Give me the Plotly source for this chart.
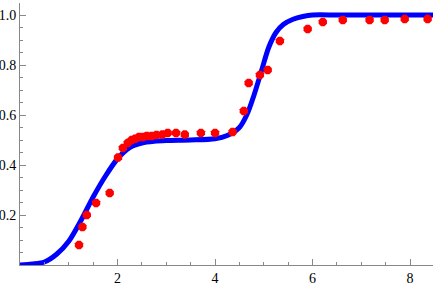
import plotly.graph_objects as go

# Blue fitted curve
curve_x = [0, 0.25, 0.5, 0.75, 1.0, 1.25, 1.5, 1.75, 2.0, 2.25, 2.5, 2.75, 3.0, 3.5,
           4.0, 4.25, 4.5, 4.65, 4.8, 4.95, 5.1, 5.25, 5.4, 5.6, 5.8, 6.0, 6.5, 7.0, 7.5, 8.0, 8.5]
curve_y = [0, 0.004, 0.012, 0.043, 0.095, 0.178, 0.272, 0.355, 0.425, 0.47, 0.488, 0.495, 0.498, 0.5,
           0.505, 0.518, 0.55, 0.6, 0.68, 0.775, 0.87, 0.93, 0.962, 0.983, 0.994, 1.0, 1.0, 1.0, 1.0, 1.0, 1.0]

# Red data points
pts_x = [1.21, 1.28, 1.37, 1.56, 1.84, 2.01, 2.11, 2.21, 2.29, 2.36, 2.44, 2.52, 2.6, 2.7, 2.8,
         2.92, 3.03, 3.2, 3.38, 3.71, 4.0, 4.36, 4.59, 4.69, 4.92, 5.08, 5.33, 5.9, 6.21,
         6.62, 7.17, 7.48, 7.89, 8.36]
pts_y = [0.08, 0.152, 0.20, 0.248, 0.288, 0.43, 0.468, 0.488, 0.50, 0.505, 0.512, 0.512, 0.516, 0.516, 0.52,
         0.522, 0.528, 0.528, 0.522, 0.528, 0.528, 0.532, 0.616, 0.728, 0.76, 0.78, 0.896, 0.944, 0.972,
         0.98, 0.98, 0.98, 0.984, 0.984]

x_ticks = [2, 4, 6, 8]
y_ticks = [0.2, 0.4, 0.6, 0.8, 1.0]
y_labels = ["0.2", "0.4", "0.6", "0.8", "1.0"]

fig = go.Figure()
fig.add_trace(go.Scatter(x=curve_x, y=curve_y, mode="lines",
                         line=dict(color="#0000ff", width=5, shape="spline", smoothing=0.8),
                         cliponaxis=False, showlegend=False, hoverinfo="skip"))
fig.add_trace(go.Scatter(x=pts_x, y=pts_y, mode="markers",
                         marker=dict(symbol="octagon", size=9, color="#ff0000", line=dict(width=0)),
                         cliponaxis=False, showlegend=False))

axis_color = "#888888"
serif = "Times New Roman"
fig.update_layout(
    width=448, height=286,
    margin=dict(l=20, r=15, t=3, b=21),
    paper_bgcolor="white", plot_bgcolor="white",
    font=dict(family=serif, size=14, color="black"),
    xaxis=dict(range=[0, 8.47], showgrid=False, zeroline=False, showline=True,
               linecolor=axis_color, linewidth=1, tickvals=x_ticks,
               tickfont=dict(family=serif, size=14, color="black"),
               ticks="inside", ticklen=6, tickcolor=axis_color, tickwidth=1,
               minor=dict(tick0=0, dtick=0.5, ticks="inside", ticklen=3, tickcolor=axis_color, showgrid=False),
               automargin=False, fixedrange=True),
    yaxis=dict(range=[0, 1.048], showgrid=False, zeroline=False, showline=True,
               linecolor=axis_color, linewidth=1, tickvals=y_ticks, ticktext=y_labels,
               tickfont=dict(family=serif, size=14, color="black"),
               ticks="inside", ticklen=6, tickcolor=axis_color, tickwidth=1,
               minor=dict(tick0=0, dtick=0.05, ticks="inside", ticklen=3, tickcolor=axis_color, showgrid=False),
               automargin=False, fixedrange=True),
)

fig.write_html("out.html", config={"displayModeBar": False},
               post_script="document.body.style.margin='0';")
